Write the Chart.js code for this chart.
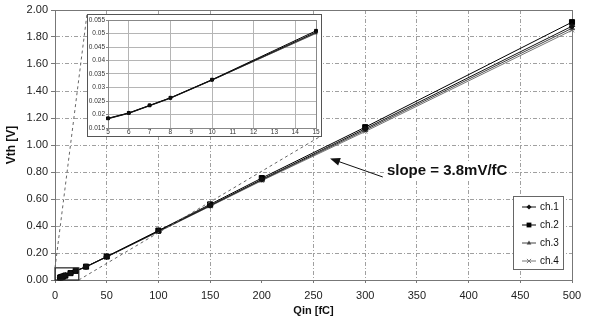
<!DOCTYPE html>
<html>
<head>
<meta charset="utf-8">
<script src="https://cdn.jsdelivr.net/npm/chart.js@4"></script>
<style>
  html, body { margin: 0; padding: 0; background: #fff; }
  #wrap { position: relative; width: 589px; height: 321px; }
  #inset { position: absolute; left: 87px; top: 14px; width: 235px; height: 123px;
           box-sizing: border-box; border: 1px solid #555; background: #fff; }
  canvas { display: block; }
</style>
</head>
<body>
<div id="wrap">
  <canvas id="main" width="589" height="321"></canvas>
  <div id="inset"><canvas id="zoom" width="233" height="121"></canvas></div>
</div>
<script>
// input charge (fC) and threshold voltage (V) per channel
const qin = [5, 6, 7, 8, 10, 15, 20, 30, 50, 100, 150, 200, 300, 500];
const ch1 = [0.0185, 0.0205, 0.0233, 0.0261, 0.0328, 0.0505, 0.067, 0.098, 0.172, 0.362, 0.552, 0.745, 1.120, 1.880];
const ch2 = [0.0186, 0.0206, 0.0234, 0.0262, 0.0329, 0.0510, 0.068, 0.099, 0.174, 0.366, 0.560, 0.755, 1.132, 1.910];
const ch3 = [0.0184, 0.0204, 0.0232, 0.0260, 0.0327, 0.0502, 0.066, 0.097, 0.171, 0.360, 0.549, 0.740, 1.110, 1.865];
const ch4 = [0.0185, 0.0205, 0.0233, 0.0261, 0.0328, 0.0500, 0.066, 0.097, 0.170, 0.357, 0.546, 0.736, 1.100, 1.850];
const channels = ['ch.1', 'ch.2', 'ch.3', 'ch.4'];

const xTicks = [0, 50, 100, 150, 200, 250, 300, 350, 400, 450, 500];
const yTicks = [0, 0.2, 0.4, 0.6, 0.8, 1.0, 1.2, 1.4, 1.6, 1.8, 2.0];
const insetXTicks = [5, 6, 7, 8, 9, 10, 11, 12, 13, 14, 15];
const insetYTicks = [0.015, 0.02, 0.025, 0.03, 0.035, 0.04, 0.045, 0.05, 0.055];
const insetCount = 6;   // points 5..15 fC shown in the inset
const slopeLabel = 'slope = 3.8mV/fC';

const FONT = "'Liberation Sans', Arial, Helvetica, sans-serif";
const looks = [
  { style: 'rectRot',  color: '#111', r: 2.8, ir: 1.4 },
  { style: 'rect',     color: '#000', r: 3.6, ir: 2.0 },
  { style: 'triangle', color: '#444', r: 3.0, ir: 1.4 },
  { style: 'crossRot', color: '#777', r: 3.0, ir: 1.4 }
];

function pts(vals, n) {
  return qin.slice(0, n).map((q, i) => ({ x: q, y: vals[i] }));
}
function sets(n, big) {
  return [ch1, ch2, ch3, ch4].map((vals, i) => ({
    label: channels[i],
    data: pts(vals, n),
    borderColor: looks[i].color,
    backgroundColor: looks[i].color,
    borderWidth: 1,
    pointStyle: looks[i].style,
    pointRadius: big ? looks[i].r : looks[i].ir,
    pointBorderWidth: 1,
    clip: 8
  }));
}

function marker(ctx, style, x, y, r, color) {
  ctx.save();
  ctx.fillStyle = color; ctx.strokeStyle = color; ctx.lineWidth = 1;
  ctx.beginPath();
  if (style === 'rect') {
    const s = r * Math.SQRT1_2;
    ctx.rect(x - s, y - s, 2 * s, 2 * s); ctx.fill();
  } else if (style === 'rectRot') {
    ctx.moveTo(x, y - r); ctx.lineTo(x + r, y); ctx.lineTo(x, y + r); ctx.lineTo(x - r, y);
    ctx.closePath(); ctx.fill();
  } else if (style === 'triangle') {
    ctx.moveTo(x, y - r); ctx.lineTo(x + r * 0.9, y + r * 0.6); ctx.lineTo(x - r * 0.9, y + r * 0.6);
    ctx.closePath(); ctx.fill();
  } else {
    const s = r * 0.8;
    ctx.moveTo(x - s, y - s); ctx.lineTo(x + s, y + s);
    ctx.moveTo(x + s, y - s); ctx.lineTo(x - s, y + s);
    ctx.stroke();
  }
  ctx.restore();
}

// zoom window on the main chart (data units)
const zoomQ = 23, zoomV = 0.09;

const mainDecor = {
  id: 'mainDecor',
  beforeDatasetsDraw(chart) {
    const { ctx, chartArea: a } = chart;
    ctx.save();
    ctx.strokeStyle = '#777'; ctx.lineWidth = 1;
    ctx.strokeRect(a.left + 0.5, a.top + 0.5, a.right - a.left, a.bottom - a.top);
    ctx.restore();
  },
  afterDraw(chart) {
    const { ctx, chartArea: a, scales: { x, y } } = chart;
    ctx.save();

    // zoom box
    const bx0 = x.getPixelForValue(0), bx1 = x.getPixelForValue(zoomQ);
    const by0 = y.getPixelForValue(zoomV), by1 = y.getPixelForValue(0);
    ctx.strokeStyle = '#222'; ctx.lineWidth = 1.2;
    ctx.strokeRect(bx0, by0, bx1 - bx0, by1 - by0);

    // connectors to inset
    const el = document.getElementById('inset');
    const L = el.offsetLeft, T = el.offsetTop;
    const R = L + el.offsetWidth, B = T + el.offsetHeight;
    ctx.strokeStyle = '#666'; ctx.lineWidth = 1; ctx.setLineDash([3, 3]);
    ctx.beginPath();
    ctx.moveTo(bx0, by0); ctx.lineTo(L, T);
    ctx.moveTo(bx1, by1); ctx.lineTo(R - 1, B - 1);
    ctx.stroke();
    ctx.setLineDash([]);

    // slope annotation
    ctx.font = 'bold 15px ' + FONT;
    const tx = x.getPixelForValue(321), ty = y.getPixelForValue(0.807);
    const tw = ctx.measureText(slopeLabel).width;
    ctx.fillStyle = '#fff';
    ctx.fillRect(tx - 2, ty - 9, tw + 4, 18);
    ctx.fillStyle = '#111'; ctx.textBaseline = 'middle'; ctx.textAlign = 'left';
    ctx.fillText(slopeLabel, tx, ty);

    const ax = x.getPixelForValue(266), ay = y.getPixelForValue(0.90);
    const sx = x.getPixelForValue(317), sy = y.getPixelForValue(0.763);
    const ang = Math.atan2(ay - sy, ax - sx);
    ctx.strokeStyle = '#111'; ctx.lineWidth = 1;
    ctx.beginPath(); ctx.moveTo(sx, sy); ctx.lineTo(ax - 6 * Math.cos(ang), ay - 6 * Math.sin(ang)); ctx.stroke();
    ctx.fillStyle = '#111';
    ctx.beginPath();
    ctx.moveTo(ax, ay);
    ctx.lineTo(ax - 10 * Math.cos(ang) + 4 * Math.sin(ang), ay - 10 * Math.sin(ang) - 4 * Math.cos(ang));
    ctx.lineTo(ax - 10 * Math.cos(ang) - 4 * Math.sin(ang), ay - 10 * Math.sin(ang) + 4 * Math.cos(ang));
    ctx.closePath(); ctx.fill();

    // legend
    const lw = 50, lh = 73;
    const lx = a.right - 9 - lw, ly = a.bottom - 11 - lh;
    ctx.fillStyle = '#fff'; ctx.fillRect(lx, ly, lw, lh);
    ctx.strokeStyle = '#666'; ctx.lineWidth = 1;
    ctx.strokeRect(lx + 0.5, ly + 0.5, lw, lh);
    ctx.font = '10px ' + FONT; ctx.textBaseline = 'middle';
    chart.data.datasets.forEach((ds, i) => {
      const yy = ly + 11 + i * 18;
      ctx.strokeStyle = ds.borderColor;
      ctx.beginPath(); ctx.moveTo(lx + 9, yy); ctx.lineTo(lx + 23, yy); ctx.stroke();
      marker(ctx, ds.pointStyle, lx + 16, yy, i === 1 ? 3.4 : 2.6, ds.borderColor);
      ctx.fillStyle = '#111';
      ctx.fillText(ds.label, lx + 27, yy);
    });
    ctx.restore();
  }
};

const mainChart = new Chart(document.getElementById('main'), {
  type: 'line',
  data: { datasets: sets(qin.length, true) },
  options: {
    responsive: false,
    animation: false,
    layout: { padding: { top: 10, right: 17, left: 0, bottom: 0 } },
    plugins: { legend: { display: false }, tooltip: { enabled: false } },
    scales: {
      x: {
        type: 'linear', min: 0, max: 500,
        afterBuildTicks: s => { s.ticks = xTicks.map(v => ({ value: v })); },
        afterFit: s => { s.height = 41; },
        ticks: { font: { family: FONT, size: 11 }, color: '#222', padding: 6, maxRotation: 0 },
        grid: {
          color: c => (c.tick && c.tick.value === 200) ? 'rgba(0,0,0,0)' : '#a0a0a0',
          tickColor: '#777', tickLength: 3
        },
        border: { color: '#777', dash: [4, 2, 1, 2] },
        title: { display: true, text: 'Qin [fC]', font: { family: FONT, size: 11, weight: 'bold' }, color: '#111', padding: { top: 0, bottom: 3 } }
      },
      y: {
        min: 0, max: 2,
        afterBuildTicks: s => { s.ticks = yTicks.map(v => ({ value: v })); },
        afterFit: s => { s.width = 55; },
        ticks: { font: { family: FONT, size: 11 }, color: '#222', padding: 3, callback: v => v.toFixed(2) },
        grid: { color: '#a0a0a0', tickColor: '#777', tickLength: 4 },
        border: { color: '#777', dash: [4, 2, 1, 2] },
        title: { display: true, text: 'Vth [V]', font: { family: FONT, size: 12, weight: 'bold' }, color: '#111', padding: { top: 4, bottom: 0 } }
      }
    }
  },
  plugins: [mainDecor]
});

const insetFrame = {
  id: 'insetFrame',
  beforeDatasetsDraw(chart) {
    const { ctx, chartArea: a } = chart;
    ctx.save();
    ctx.strokeStyle = '#888'; ctx.lineWidth = 1;
    ctx.strokeRect(a.left + 0.5, a.top + 0.5, a.right - a.left, a.bottom - a.top);
    ctx.restore();
  }
};

const insetChart = new Chart(document.getElementById('zoom'), {
  type: 'line',
  data: { datasets: sets(insetCount, false) },
  options: {
    responsive: false,
    animation: false,
    layout: { padding: { top: 4, right: 5, left: 0, bottom: 0 } },
    plugins: { legend: { display: false }, tooltip: { enabled: false } },
    scales: {
      x: {
        type: 'linear', min: 5, max: 15,
        afterBuildTicks: s => { s.ticks = insetXTicks.map(v => ({ value: v })); },
        afterFit: s => { s.height = 8; },
        ticks: { font: { family: FONT, size: 6.5 }, color: '#333', padding: 0, maxRotation: 0, autoSkip: false },
        grid: {
          color: c => (c.tick && c.tick.value % 2 === 0) ? '#b5b5b5' : 'rgba(0,0,0,0)',
          drawTicks: false
        },
        border: { color: '#888' }
      },
      y: {
        min: 0.015, max: 0.055,
        afterBuildTicks: s => { s.ticks = insetYTicks.map(v => ({ value: v })); },
        afterFit: s => { s.width = 20; },
        ticks: { font: { family: FONT, size: 6.5 }, color: '#333', padding: 1, autoSkip: false,
                 callback: v => String(parseFloat(v.toFixed(4))) },
        grid: { color: '#b5b5b5', tickColor: '#888', tickLength: 2 },
        border: { color: '#888' }
      }
    }
  },
  plugins: [insetFrame]
});
</script>
</body>
</html>
